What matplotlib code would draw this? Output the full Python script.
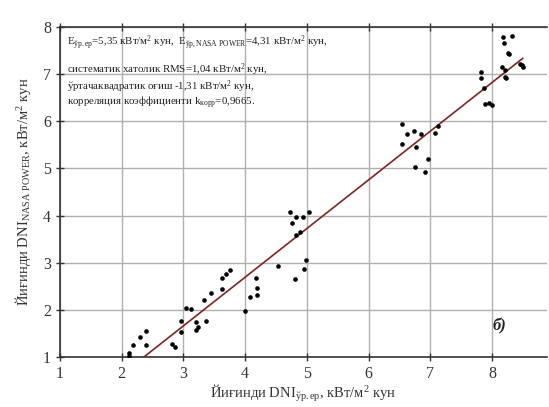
#!/usr/bin/env python3
"""Scatter of ground vs NASA POWER summed DNI with a linear fit."""

import numpy as np
import matplotlib.pyplot as plt

# ground-measured DNI (x) vs NASA POWER DNI (y), kWh/m^2 day
dni_ground = [
    2.12, 2.12, 2.19, 2.30, 2.39, 2.39, 2.81, 2.86, 2.96, 2.96,
    3.05, 3.12, 3.21, 3.20, 3.23, 3.36, 3.34, 3.44, 3.62, 3.63,
    3.69, 3.75, 4.00, 4.17, 4.20, 4.19, 4.08, 4.54, 4.73, 4.76,
    4.82, 4.82, 4.89, 4.94, 5.04, 4.99, 4.95, 4.81,
    6.54, 6.62, 6.73, 6.85, 6.55, 6.77, 6.96, 6.75, 6.92, 7.08, 7.13,
    8.18, 8.19, 8.33, 8.26, 8.27, 8.16, 8.22, 8.21, 8.23, 8.45, 8.50,
    8.48, 7.83, 7.83, 7.87, 7.89, 7.96, 8.00,
]
dni_nasa = [
    1.03, 1.08, 1.26, 1.42, 1.55, 1.25, 1.27, 1.22, 1.77, 1.52,
    2.03, 2.01, 1.74, 1.58, 1.63, 1.76, 2.21, 2.36, 2.44, 2.68,
    2.76, 2.84, 1.98, 2.67, 2.47, 2.31, 2.28, 2.94, 4.08, 3.84,
    3.96, 3.59, 3.66, 3.97, 4.07, 3.05, 2.87, 2.65,
    5.94, 5.73, 5.79, 5.72, 5.52, 5.45, 5.19, 5.02, 4.92, 5.76, 5.89,
    7.78, 7.67, 7.81, 7.44, 7.42, 7.16, 7.09, 6.95, 6.91, 7.21, 7.16,
    7.19, 7.04, 6.92, 6.70, 6.37, 6.39, 6.35,
]

# regression line endpoints (x range of the drawn fit)
fit_x = [2.36, 8.50]
fit_slope = 1.032
fit_intercept = -1.436

stats_lines = [
    r"E$_{\mathrm{ўр.ер}}$=5,35 кВт/м$^2$ кун,  E$_{\mathrm{ўр,NASA\ POWER}}$=4,31 кВт/м$^2$ кун,",
    r"систематик хатолик RMS=1,04 кВт/м$^2$ кун,",
    r"ўртачаквадратик оғиш -1,31 кВт/м$^2$ кун,",
    r"корреляция коэффициенти k$_{\mathrm{корр}}$=0,9665.",
]

plt.rcParams.update(
    {
        "font.family": ["Liberation Serif", "DejaVu Serif"],
        "mathtext.fontset": "custom",
        "mathtext.rm": "Liberation Serif",
        "mathtext.it": "Liberation Serif:italic",
        "mathtext.bf": "Liberation Serif:bold",
    }
)

fig = plt.figure(figsize=(5.49, 4.07), dpi=100)
ax = fig.add_axes([60 / 549, 50 / 407, 487 / 549, 330 / 407])

ax.scatter(dni_ground, dni_nasa, s=11, color="black", zorder=3, linewidths=0)
fx = np.array(fit_x)
ax.plot(fx, fit_slope * fx + fit_intercept, color="#7a2526", lw=1.2, zorder=2)

ax.set_xlim(1, 1 + 487 / 61.7)
ax.set_ylim(1, 8)
ax.set_xticks(range(1, 9))
ax.set_yticks(range(1, 9))
ax.grid(True, color="#b0b0b0", lw=1.0)
ax.set_axisbelow(True)
ax.tick_params(direction="inout", length=6, width=1, top=True, right=False,
               labelsize=11.5, colors="#333333", labelcolor="#333333")
for spine in ax.spines.values():
    spine.set_color("#333333")
    spine.set_linewidth(1.2)
ax.spines["right"].set_visible(False)

ax.set_xlabel(r"Йиғинди DNI$_{\mathrm{ўр.ер}}$, кВт/м$^2$ кун", fontsize=10.5,
              color="#333333", labelpad=1)
ax.set_ylabel(r"Йиғинди DNI$_{\mathrm{NASA\ POWER}}$, кВт/м$^2$ кун", fontsize=10.5,
              color="#333333", labelpad=7)

y_px = [43, 70, 87, 103]
for line, yp in zip(stats_lines, y_px):
    ax.text(67 / 549, 1 - yp / 407, line, transform=fig.transFigure, fontsize=7.8,
            va="center", ha="left", color="#222222")

ax.text(8.13, 1.64, "б)", fontsize=12, fontweight="bold", fontstyle="italic",
        ha="center", va="center", color="#222222")

fig.savefig("out.png", dpi=100)
